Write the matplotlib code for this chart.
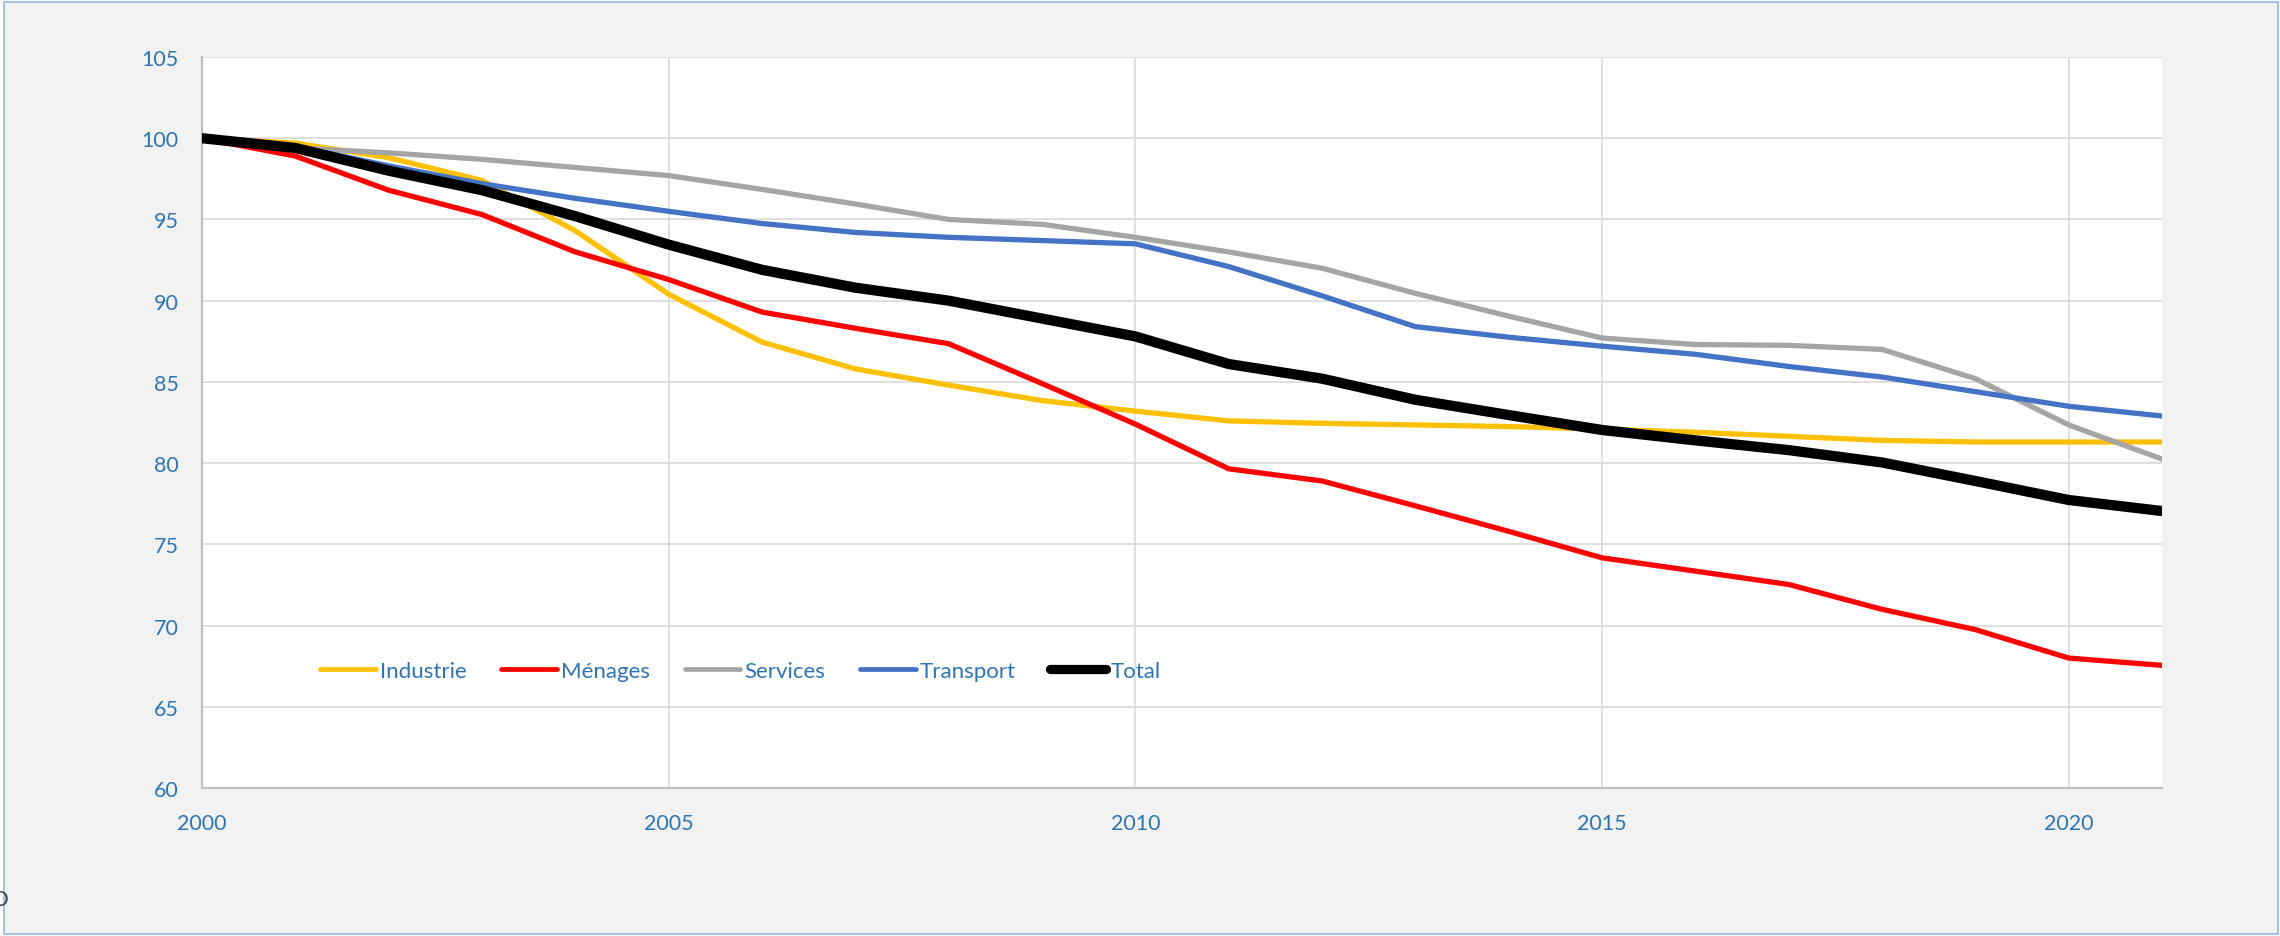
import matplotlib
matplotlib.use("Agg")
import matplotlib.pyplot as plt
from matplotlib.patches import Rectangle

plt.rcParams['font.family'] = ['Lato', 'DejaVu Sans']

years = list(range(2000, 2022))

industrie = [100.0, 99.7, 98.8, 97.4, 94.3, 90.4, 87.45, 85.8, 84.8, 83.85, 83.2,
             82.6, 82.45, 82.35, 82.25, 82.1, 81.9, 81.65, 81.4, 81.3, 81.3, 81.3]
menages = [100.0, 98.9, 96.8, 95.3, 93.0, 91.3, 89.3, 88.3, 87.35, 84.9, 82.4,
           79.65, 78.9, 77.37, 75.8, 74.17, 73.35, 72.53, 71.0, 69.75, 68.0, 67.55]
services = [100.0, 99.4, 99.1, 98.7, 98.2, 97.7, 96.85, 95.95, 95.0, 94.7, 93.9,
            93.0, 92.0, 90.45, 89.05, 87.7, 87.3, 87.25, 87.0, 85.2, 82.35, 80.25]
transport = [100.0, 99.5, 98.3, 97.2, 96.3, 95.5, 94.75, 94.2, 93.9, 93.7, 93.5,
             92.1, 90.3, 88.4, 87.75, 87.2, 86.7, 85.95, 85.3, 84.4, 83.5, 82.9]
total = [100.0, 99.4, 98.0, 96.8, 95.2, 93.45, 91.9, 90.8, 90.0, 88.9, 87.8,
         86.1, 85.2, 83.9, 82.96, 82.04, 81.4, 80.8, 80.04, 78.9, 77.73, 77.05]

series_names = ["Industrie", "Ménages", "Services", "Transport", "Total"]
series_values = [industrie, menages, services, transport, total]
series_colors = ["#FFC000", "#FF0000", "#A5A5A5", "#4472C4", "#000000"]
series_widths = [3.8, 3.8, 3.8, 3.8, 7.4]

y_ticks = [60, 65, 70, 75, 80, 85, 90, 95, 100, 105]
x_ticks = [2000, 2005, 2010, 2015, 2020]

W, H, DPI = 2280, 937, 100
fig = plt.figure(figsize=(W / DPI, H / DPI), dpi=DPI, facecolor="white")

# chart area background with thin border
fig.patches.append(Rectangle((4 / W, 2 / H), (2278 - 4) / W, (934 - 2) / H,
                             transform=fig.transFigure, facecolor="#F2F2F2",
                             edgecolor="#8DB8E2", linewidth=1.2, zorder=-10))

ax = fig.add_axes([202 / W, 1 - 789 / H, (2162 - 202) / W, (789 - 58) / H])
ax.set_facecolor("white")

for name, vals, col, lw in zip(series_names, series_values, series_colors, series_widths):
    ax.plot(years, vals, color=col, linewidth=lw, label=name,
            solid_capstyle="round", solid_joinstyle="round", zorder=3)

ax.set_xlim(2000, 2021)
ax.set_ylim(60, 105)
ax.set_xticks(x_ticks)
ax.set_yticks(y_ticks)
ax.set_xticklabels([str(t) for t in x_ticks])
ax.set_yticklabels([str(t) for t in y_ticks])

ax.grid(True, color="#D9D9D9", linewidth=1.2, zorder=0)
ax.set_axisbelow(True)
for side in ["top", "right"]:
    ax.spines[side].set_visible(False)
for side in ["left", "bottom"]:
    ax.spines[side].set_color("#BFBFBF")
    ax.spines[side].set_linewidth(1.6)

ax.tick_params(axis="both", length=0, labelsize=15.5, labelcolor="#2E75B6")
ax.tick_params(axis="y", pad=17)
ax.tick_params(axis="x", pad=18)

leg = ax.legend(loc="center left", bbox_to_anchor=((320 - 202) / 1960, (789 - 672) / 731),
                ncol=5, frameon=False, fontsize=16, handlelength=2.5,
                handletextpad=0.2, columnspacing=1.55, borderpad=0, borderaxespad=0)
for txt in leg.get_texts():
    txt.set_color("#2E75B6")
for line, lw in zip(leg.get_lines(), series_widths):
    line.set_linewidth(lw * 0.9)
    line.set_solid_capstyle("round")

fig.text(0, 1 - 900 / H, "O", ha="center", va="center", fontsize=15, color="#404040")

fig.savefig("out.png", dpi=DPI, facecolor=fig.get_facecolor())
